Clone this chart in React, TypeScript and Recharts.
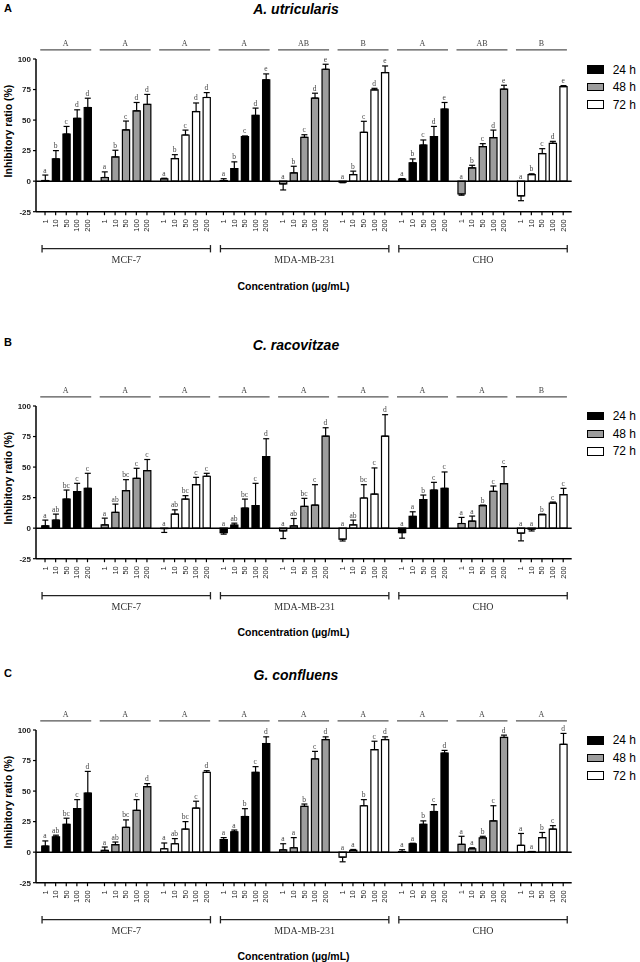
import React from "react";
import { ComposedChart, Bar, Line, XAxis, YAxis, ReferenceLine, ErrorBar, Cell, LabelList } from "recharts";

const concentrations = ["1", "10", "50", "100", "200"];
const cellLines = ["MCF-7", "MDA-MB-231", "CHO"];
const times = ["24 h", "48 h", "72 h"];
const timeFills = ["#000000", "#9d9d9d", "#ffffff"];
const yTicks = [-25, 0, 25, 50, 75, 100];

// A. utricularis  (groups: MCF-7 24/48/72, MDA-MB-231 24/48/72, CHO 24/48/72)
const utricularisMean = [
  [0.5, 18.2, 38.6, 51.4, 60.3],
  [3, 19.8, 42, 57.6, 62.8],
  [1.9, 18.5, 37.8, 57, 68.5],
  [0.5, 10.3, 36.4, 53.8, 82.9],
  [-2.2, 6.8, 35.9, 68, 91.6],
  [-0.8, 5.4, 40, 74.7, 88.9],
  [1.6, 15, 29.6, 36.4, 59],
  [-10.5, 10.9, 28.3, 35.6, 75.3],
  [-12, 5.4, 22.6, 31, 77.4],
];
const utricularisErr = [
  [4.5, 6.8, 6.2, 7, 7.6],
  [4.6, 5.5, 7.2, 6.8, 8.2],
  [0.5, 3.2, 4, 7, 4],
  [1.5, 5.5, 0.6, 6, 4.9],
  [5, 5.4, 2.1, 4, 4.1],
  [0.5, 2.8, 9, 1.3, 5.4],
  [0.5, 3.2, 4.1, 8.4, 5.4],
  [1, 2.1, 2.4, 6.2, 3.2],
  [4, 0.6, 4, 1.6, 0.8],
];
const utricularisLetters = [
  "a b c d d", "a b c d d", "a b c d d",
  "a b c d e", "a b c d e", "a b c d e",
  "a b c d e", "a b c d e", "a b c d e",
];
const utricularisGroups = ["A", "A", "A", "A", "AB", "B", "A", "AB", "B"];

// C. racovitzae
const racovitzaeMean = [
  [1.9, 6.6, 23.8, 29.9, 32.6],
  [2.7, 12.9, 30.7, 40.8, 47.1],
  [-0.3, 11.5, 23.8, 35.6, 42.5],
  [-3.6, 2.5, 16.4, 18.4, 58.6],
  [-2.2, 1.9, 17.8, 18.9, 75.3],
  [-9, 2.7, 24.7, 27.9, 75.3],
  [-3.6, 9.6, 23.3, 31.2, 32.6],
  [3.8, 5.8, 18.4, 30.1, 36.4],
  [-4.1, -0.8, 11, 20.5, 27.4],
];
const racovitzaeErr = [
  [4.7, 4.9, 7.4, 6.8, 12.3],
  [5.5, 6.8, 9, 8.2, 9.1],
  [3.2, 3.5, 2.8, 6, 2.4],
  [1.3, 1.6, 7.4, 18.3, 14.6],
  [6.3, 6, 6.6, 16.7, 6.9],
  [1.5, 3.9, 10.9, 21.4, 17.6],
  [4.6, 3.8, 3.8, 6.3, 13.4],
  [5, 4.1, 0.5, 4.4, 14],
  [6.3, 1.5, 0.5, 0.9, 5.2],
];
const racovitzaeLetters = [
  "a ab bc c c", "a ab bc c c", "a ab bc c c",
  "a ab bc c d", "a ab bc c d", "a ab bc c d",
  "a a b c c", "a a b c c", "a a b c c",
];
const racovitzaeGroups = ["A", "A", "A", "A", "A", "A", "A", "A", "B"];

// G. confluens
const confluensMean = [
  [5, 12.5, 22.8, 35.6, 48.3],
  [1.4, 6.1, 20.3, 34.2, 53.6],
  [2.8, 6.9, 18.9, 36.1, 65.3],
  [10.3, 16.7, 29.2, 65.3, 88.9],
  [1.9, 3.6, 37.5, 76.4, 92.2],
  [-4.1, 1.4, 38, 83.9, 92.2],
  [0.5, 6.8, 22.8, 33.3, 81.1],
  [6.4, 2.8, 11.7, 25.6, 93.9],
  [5.6, 0.5, 11.9, 18.9, 88.3],
];
const confluensErr = [
  [4.2, 1.4, 5, 7.4, 17.8],
  [2.8, 2.2, 6.1, 8.8, 2.5],
  [4.7, 4.2, 6.1, 5.6, 1.4],
  [1.6, 1.4, 6.4, 4.7, 5.5],
  [5, 8.3, 1.9, 6.1, 2.2],
  [3.8, 0.8, 5, 6.9, 2.2],
  [1.5, 0.5, 2.8, 5.6, 2.2],
  [6.6, 0.8, 1.3, 12.4, 1.9],
  [9.7, 0, 4.2, 2.8, 8.9],
];
const confluensLetters = [
  "a ab bc c d", "a ab bc c d", "a ab bc c d",
  "a a b c d", "a a b c d", "a a b c d",
  "a a b c d", "a a b c d", "a a b c d",
];
const confluensGroups = ["A", "A", "A", "A", "A", "A", "A", "A", "A"];

const SANS = "'Liberation Sans', Arial, sans-serif";
const SERIF = "'Liberation Serif', 'Times New Roman', serif";
const PITCH = 5.6; // group spacing in bar units
const CHART_H = 290;
const PLOT_TOP = 59;

function buildRows(mean: number[][], err: number[][], letters: string[]) {
  const rows: any[] = [];
  mean.forEach((vals, g) => {
    const lets = letters[g].split(" ");
    vals.forEach((v, i) => {
      const e = err[g][i];
      rows.push({
        x: g * PITCH + i,
        value: v,
        err: v >= 0 ? [0, e] : [e, 0],
        top: v >= 0 ? v + e : 0,
        letter: lets[i],
        time: g % 3,
      });
    });
  });
  return rows;
}

const ConcTick = (props: any) => {
  const { x, y, index } = props;
  return (
    <text
      x={x}
      y={y}
      transform={`rotate(-90 ${x} ${y})`}
      textAnchor="end"
      dominantBaseline="central"
      fontSize={7.5}
      fontFamily={SANS}
      fill="#222"
    >
      {concentrations[index % 5]}
    </text>
  );
};

const LetterLabel = (props: any) => {
  const vb = props.viewBox || {};
  const x = props.x ?? (vb.x ?? 0) + (vb.width ?? 0) / 2;
  const y = (props.y ?? vb.y ?? 0) - 2.5;
  return (
    <text x={x} y={y} textAnchor="middle" fontSize={7.5} fontFamily={SERIF} fill="#444" stroke="none">
      {props.value}
    </text>
  );
};

interface PanelProps {
  plotTop: number;
  tag: string;
  tagY: number;
  title: string;
  titleY: number;
  mean: number[][];
  err: number[][];
  letters: string[];
  groups: string[];
}

function Panel({ plotTop, tag, tagY, title, titleY, mean, err, letters, groups }: PanelProps) {
  const rows = buildRows(mean, err, letters);
  const chartTop = plotTop - PLOT_TOP;
  const bracketY = -55.3;
  return (
    <>
      <div style={{ position: "absolute", left: 4, top: tagY - 7, lineHeight: "14px", fontFamily: SANS, fontWeight: "bold", fontSize: 11 }}>
        {tag}
      </div>
      <div style={{ position: "absolute", left: 196, width: 200, top: titleY - 8, lineHeight: "16px", textAlign: "center", fontFamily: SANS, fontWeight: "bold", fontStyle: "italic", fontSize: 14 }}>
        {title}
      </div>
      <div style={{ position: "absolute", left: 8 - 70, width: 140, top: plotTop + 72 - 7, lineHeight: "14px", textAlign: "center", transform: "rotate(-90deg)", fontFamily: SANS, fontWeight: "bold", fontSize: 10.5 }}>
        Inhibitory ratio (%)
      </div>
      <div style={{ position: "absolute", left: 193.5, width: 200, top: plotTop + 226.5 - 7, lineHeight: "14px", textAlign: "center", fontFamily: SANS, fontWeight: "bold", fontSize: 10.5 }}>
        Concentration (µg/mL)
      </div>
      {times.map((t, k) => (
        <div key={t} style={{ position: "absolute", left: 586.7, top: plotTop + 10.5 + k * 17.6 - 7, height: 14, display: "flex", alignItems: "center" }}>
          <span style={{ display: "inline-block", width: 17.6, height: 8.5, background: timeFills[k], border: "1.3px solid #000", boxSizing: "border-box" }} />
          <span style={{ marginLeft: 8.4, fontSize: 12, fontFamily: SANS, lineHeight: "14px" }}>{t}</span>
        </div>
      ))}
      <div style={{ position: "absolute", left: 0, top: chartTop, willChange: "transform" }}>
        <ComposedChart width={640} height={CHART_H} data={rows} margin={{ top: PLOT_TOP, right: 68.3, bottom: 48.3, left: 6 }}>
          <XAxis
            type="number"
            dataKey="x"
            domain={[-0.85, 8 * PITCH + 4.8]}
            ticks={rows.map((r) => r.x)}
            interval={0}
            tick={<ConcTick />}
            tickSize={3.5}
            tickMargin={4}
            height={30}
            axisLine={{ stroke: "#000", strokeWidth: 1.5 }}
            tickLine={{ stroke: "#000", strokeWidth: 1.2 }}
          />
          <YAxis
            type="number"
            domain={[-25, 100]}
            ticks={yTicks}
            interval={0}
            width={30}
            tickSize={3}
            tickMargin={2}
            axisLine={{ stroke: "#000", strokeWidth: 1.5 }}
            tickLine={{ stroke: "#000", strokeWidth: 1.2 }}
            tick={{ fontSize: 8, fontWeight: "bold", fill: "#222", fontFamily: SANS }}
          />
          <Bar dataKey="value" barSize={7.2} stroke="#000" strokeWidth={1.2} isAnimationActive={false}>
            {rows.map((r, i) => (
              <Cell key={i} fill={timeFills[r.time]} />
            ))}
            <ErrorBar dataKey="err" direction="y" width={3} stroke="#000" strokeWidth={1.2} />
          </Bar>
          <Line dataKey="top" stroke="none" dot={false} activeDot={false} isAnimationActive={false}>
            <LabelList dataKey="letter" content={<LetterLabel />} />
          </Line>
          <ReferenceLine y={0} stroke="#000" strokeWidth={1.5} />
          {groups.map((g, k) => (
            <ReferenceLine
              key={"g" + k}
              ifOverflow="visible"
              segment={[{ x: k * PITCH - 0.45, y: 107.5 }, { x: k * PITCH + 4.35, y: 107.5 }]}
              stroke="#555"
              strokeWidth={1.3}
              label={{ value: g, position: "top", offset: 3.5, fill: "#444", fontSize: 8, fontFamily: SERIF }}
            />
          ))}
          {cellLines.map((c, k) => {
            const x1 = 3 * k * PITCH - 0.28;
            const x2 = (3 * k + 2) * PITCH + 4.38;
            return (
              <React.Fragment key={"c" + k}>
                <ReferenceLine
                  ifOverflow="visible"
                  segment={[{ x: x1, y: bracketY }, { x: x2, y: bracketY }]}
                  stroke="#222"
                  strokeWidth={1.3}
                  label={{ value: c, position: "bottom", offset: 7, fill: "#333", fontSize: 10, fontFamily: SERIF }}
                />
                <ReferenceLine ifOverflow="visible" segment={[{ x: x1, y: bracketY - 3 }, { x: x1, y: bracketY + 3 }]} stroke="#222" strokeWidth={1.3} />
                <ReferenceLine ifOverflow="visible" segment={[{ x: x2, y: bracketY - 3 }, { x: x2, y: bracketY + 3 }]} stroke="#222" strokeWidth={1.3} />
              </React.Fragment>
            );
          })}
        </ComposedChart>
      </div>
    </>
  );
}

export default function App() {
  return (
    <div style={{ position: "absolute", left: 0, top: 0, width: 640, height: 962, overflow: "hidden", background: "#fff" }}>
      <Panel plotTop={59} tag="A" tagY={7.5} title="A. utricularis" titleY={8.5}
        mean={utricularisMean} err={utricularisErr} letters={utricularisLetters} groups={utricularisGroups} />
      <Panel plotTop={405.7} tag="B" tagY={341.7} title="C. racovitzae" titleY={345}
        mean={racovitzaeMean} err={racovitzaeErr} letters={racovitzaeLetters} groups={racovitzaeGroups} />
      <Panel plotTop={729.8} tag="C" tagY={673} title="G. confluens" titleY={675}
        mean={confluensMean} err={confluensErr} letters={confluensLetters} groups={confluensGroups} />
    </div>
  );
}
